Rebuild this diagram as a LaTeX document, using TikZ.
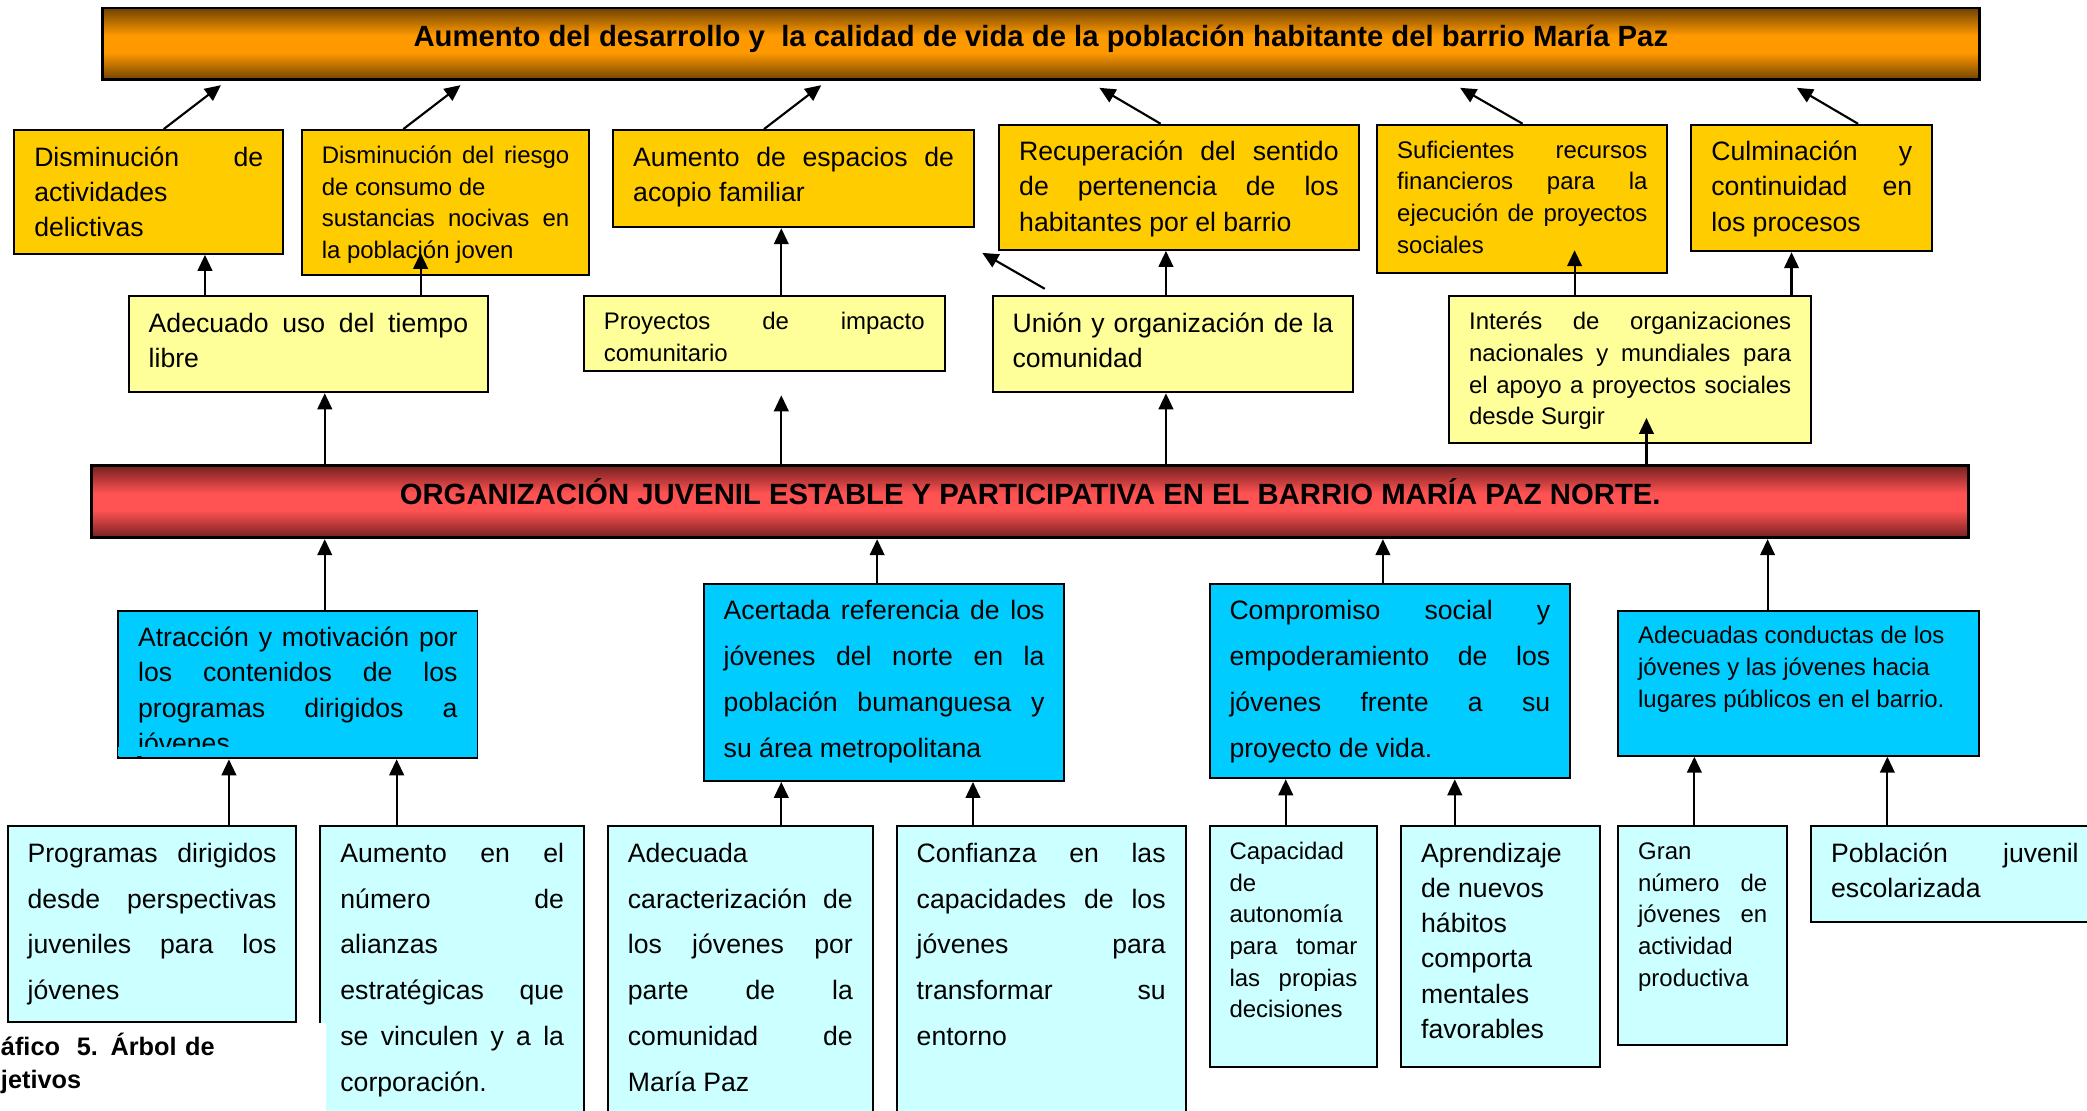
\documentclass[tikz,border=0pt]{standalone}
\usepackage{fontspec}
\setmainfont{Liberation Sans}
\usetikzlibrary{arrows.meta}

\definecolor{ambar}{RGB}{255,204,0}
\definecolor{crema}{RGB}{255,255,153}
\definecolor{celeste}{RGB}{0,204,255}
\definecolor{celestito}{RGB}{204,255,255}
\definecolor{naranjaosc}{RGB}{112,66,0}
\definecolor{naranja}{RGB}{255,153,0}
\definecolor{rojoosc}{RGB}{118,32,32}
\definecolor{rojo}{RGB}{255,82,82}

\pgfdeclareverticalshading{barnaranja}{100bp}{color(0bp)=(naranjaosc); color(25bp)=(naranjaosc); color(44bp)=(naranja); color(56bp)=(naranja); color(75bp)=(naranjaosc); color(100bp)=(naranjaosc)}
\pgfdeclareverticalshading{barroja}{100bp}{color(0bp)=(rojoosc); color(25bp)=(rojoosc); color(44bp)=(rojo); color(56bp)=(rojo); color(75bp)=(rojoosc); color(100bp)=(rojoosc)}

\hyphenpenalty=10000
\hbadness=10000

\tikzset{every picture/.style={line width=0.75pt}}
\tikzset{
  caja/.style={draw=black, line width=0.75pt, anchor=north west, inner xsep=7.5pt, inner ysep=0pt, align=justify},
  grande/.style={font=\fontsize{10}{13.25}\selectfont, text height=13.5pt},
  chica/.style={font=\fontsize{9}{11.9}\selectfont, text height=12.5pt},
  holgada/.style={font=\fontsize{10}{17.25}\selectfont, text height=13.5pt},
  efecto/.style={caja, fill=ambar},
  medio/.style={caja, fill=crema},
  causa/.style={caja, fill=celeste},
  raiz/.style={caja, fill=celestito},
  barra/.style={draw=black, line width=1.1pt, shade, minimum width=705pt, minimum height=27pt, font=\fontsize{11}{13}\selectfont\bfseries, text height=9.5pt, text depth=7.5pt},
  flecha/.style={-{Triangle[length=6pt,width=5.5pt]}, line width=0.8pt},
}

\begin{document}
\begin{tikzpicture}[x=0.5pt,y=0.5pt,yscale=-1,xscale=1]
\useasboundingbox (0,0) rectangle (1568,834);

%Shape: Bar (fin)
\node[barra, shading=barnaranja] (fin) at (782,33) {Aumento del desarrollo y\ \ la calidad de vida de la población habitante del barrio María Paz};

%Shape: Rectangle (efectos)
\node[efecto, grande, text width=86pt, text depth=33pt] (deli) at (10,97) {Disminución de\linebreak actividades\\ delictivas};
\node[efecto, chica, text width=93pt, text depth=42pt] (ries) at (226,97) {Disminución del riesgo\linebreak de consumo de\\ sustancias nocivas en\linebreak la población joven};
\node[efecto, grande, text width=120.5pt, text depth=23pt] (acop) at (460,97) {Aumento de espacios de\linebreak acopio familiar};
\node[efecto, grande, text width=120pt, text depth=33.5pt] (recu) at (750,93) {Recuperación del sentido\linebreak de pertenencia de los\linebreak habitantes por el barrio};
\node[efecto, chica, text width=94pt, text depth=43pt] (recs) at (1034,93) {Suficientes recursos\linebreak financieros para la\linebreak ejecución de proyectos\linebreak sociales};
\node[efecto, grande, text width=75.5pt, text depth=34pt] (culm) at (1270,93) {Culminación y\linebreak continuidad en\linebreak los procesos};

%Shape: Rectangle (medios)
\node[medio, grande, text width=120pt, text depth=22.5pt] (libr) at (96,222) {Adecuado uso del tiempo\linebreak libre};
\node[medio, chica, text width=120.5pt, text depth=15.5pt] (proy) at (438,222) {Proyectos de impacto\linebreak comunitario};
\node[medio, grande, text width=120.5pt, text depth=22.5pt] (unio) at (745,222) {Unión y organización de la\linebreak comunidad};
\node[medio, chica, text width=121pt, text depth=42.5pt] (inte) at (1088,222) {Interés de organizaciones\linebreak nacionales y mundiales para\linebreak el apoyo a proyectos sociales\linebreak desde Surgir};

%Shape: Bar (central)
\node[barra, shading=barroja] (cent) at (774,377) {ORGANIZACIÓN JUVENIL ESTABLE Y PARTICIPATIVA EN EL BARRIO MARÍA PAZ NORTE.};

%Shape: Rectangle (causas)
\node[causa, grande, text width=120pt, text depth=42pt] (atra) at (88,458) {Atracción y motivación por\linebreak los contenidos de los\linebreak programas dirigidos a\linebreak jóvenes};
\fill[celeste] (89,561) rectangle (357,568.2);
\node[causa, holgada, text width=120.5pt, text depth=60.5pt] (acer) at (528,438) {Acertada referencia de los\linebreak jóvenes del norte en la\linebreak población bumanguesa y\linebreak su área metropolitana};
\node[causa, holgada, text width=120.5pt, text depth=59.5pt] (comp) at (908,438) {Compromiso social y\linebreak empoderamiento de los\linebreak jóvenes frente a su\linebreak proyecto de vida.};
\node[causa, chica, text width=120.5pt, text depth=42pt] (cond) at (1215,458) {Adecuadas conductas de los\\ jóvenes y las jóvenes hacia\\ lugares públicos en el barrio.};

%Shape: Rectangle (raices)
\node[raiz, holgada, text width=93.5pt, text depth=60pt] (prog) at (5,620) {Programas dirigidos\linebreak desde perspectivas\linebreak juveniles para los\linebreak jóvenes};
\node[raiz, holgada, text width=84pt, text depth=101.5pt] (alia) at (240,620) {Aumento en el\linebreak número de\linebreak alianzas\\ estratégicas que\linebreak se vinculen y a la\linebreak corporación.};
\node[raiz, holgada, text width=84.5pt, text depth=101.5pt] (cara) at (456,620) {Adecuada\\ caracterización de\linebreak los jóvenes por\linebreak parte de la\linebreak comunidad de\linebreak María Paz};
\node[raiz, holgada, text width=93.5pt, text depth=101.5pt] (conf) at (673,620) {Confianza en las\linebreak capacidades de los\linebreak jóvenes para\linebreak transformar su\linebreak entorno};
\node[raiz, chica, text width=48pt, text depth=78pt] (auto) at (908,620) {Capacidad\\ de\\ autonomía\\ para tomar\linebreak las propias\linebreak decisiones};
\node[raiz, grande, text width=59.5pt, text depth=77pt] (habi) at (1052,620) {Aprendizaje\\ de nuevos\\ hábitos\\ comporta\\ mentales\\ favorables};
\node[raiz, chica, text width=48.5pt, text depth=69.5pt] (gran) at (1215,620) {Gran\\ número de\linebreak jóvenes en\linebreak actividad\\ productiva};
\node[raiz, grande, text width=93pt, text depth=22.5pt] (esco) at (1360,620) {Población juvenil\linebreak escolarizada};

% Text Node
\node[anchor=north west, fill=white, inner sep=0pt, text width=122pt, align=left, font=\fontsize{9.5}{12.5}\selectfont\bfseries, text height=12pt, text depth=26pt] (capt) at (0,768) {áfico\ \ 5. Árbol de\\ jetivos};

%Free ends
\coordinate (pd1) at (166,64);
\coordinate (pd2) at (346,64);
\coordinate (pd3) at (617,64);
\coordinate (pd4) at (826,66);
\coordinate (pd5) at (1097,66);
\coordinate (pd6) at (1350,66);
\coordinate (uo) at (785,217);
\coordinate (ua) at (738,190);
\coordinate (pr) at (316,190);
\coordinate (pf) at (1183,188);
\coordinate (pp) at (587,297);
\coordinate (pi) at (1237,314);

%Straight Lines (efectos -> fin)
\draw[flecha] (deli.north -| 123,0) -- (pd1);
\draw[flecha] (ries.north -| 303,0) -- (pd2);
\draw[flecha] (acop.north -| 574,0) -- (pd3);
\draw[flecha] (recu.north -| 872,0) -- (pd4);
\draw[flecha] (recs.north -| 1144,0) -- (pd5);
\draw[flecha] (culm.north -| 1396,0) -- (pd6);

%Straight Lines (medios -> efectos)
\draw[flecha] (libr.north -| 154,0) -- (deli.south -| 154,0);
\draw[flecha] (libr.north -| 316,0) -- (pr);
\draw[flecha] (proy.north -| 587,0) -- (acop.south -| 587,0);
\draw[flecha] (uo) -- (ua);
\draw[flecha] (unio.north -| 876,0) -- (recu.south -| 876,0);
\draw[flecha] (inte.north -| 1183,0) -- (pf);
\draw[flecha] (inte.north -| 1346,0) -- (culm.south -| 1346,0);

%Straight Lines (central -> medios)
\draw[flecha] (cent.north -| 244,0) -- (libr.south -| 244,0);
\draw[flecha] (cent.north -| 587,0) -- (pp);
\draw[flecha] (cent.north -| 876,0) -- (unio.south -| 876,0);
\draw[flecha] (cent.north -| 1237,0) -- (pi);

%Straight Lines (causas -> central)
\draw[flecha] (atra.north -| 244,0) -- (cent.south -| 244,0);
\draw[flecha] (acer.north -| 659,0) -- (cent.south -| 659,0);
\draw[flecha] (comp.north -| 1039,0) -- (cent.south -| 1039,0);
\draw[flecha] (cond.north -| 1328,0) -- (cent.south -| 1328,0);

%Straight Lines (raices -> causas)
\draw[flecha] (prog.north -| 172,0) -- (atra.south -| 172,0);
\draw[flecha] (alia.north -| 298,0) -- (atra.south -| 298,0);
\draw[flecha] (cara.north -| 587,0) -- (acer.south -| 587,0);
\draw[flecha] (conf.north -| 731,0) -- (acer.south -| 731,0);
\draw[flecha] (auto.north -| 966,0) -- (comp.south -| 966,0);
\draw[flecha] (habi.north -| 1093,0) -- (comp.south -| 1093,0);
\draw[flecha] (gran.north -| 1273,0) -- (cond.south -| 1273,0);
\draw[flecha] (esco.north -| 1418,0) -- (cond.south -| 1418,0);

\end{tikzpicture}
\end{document}
